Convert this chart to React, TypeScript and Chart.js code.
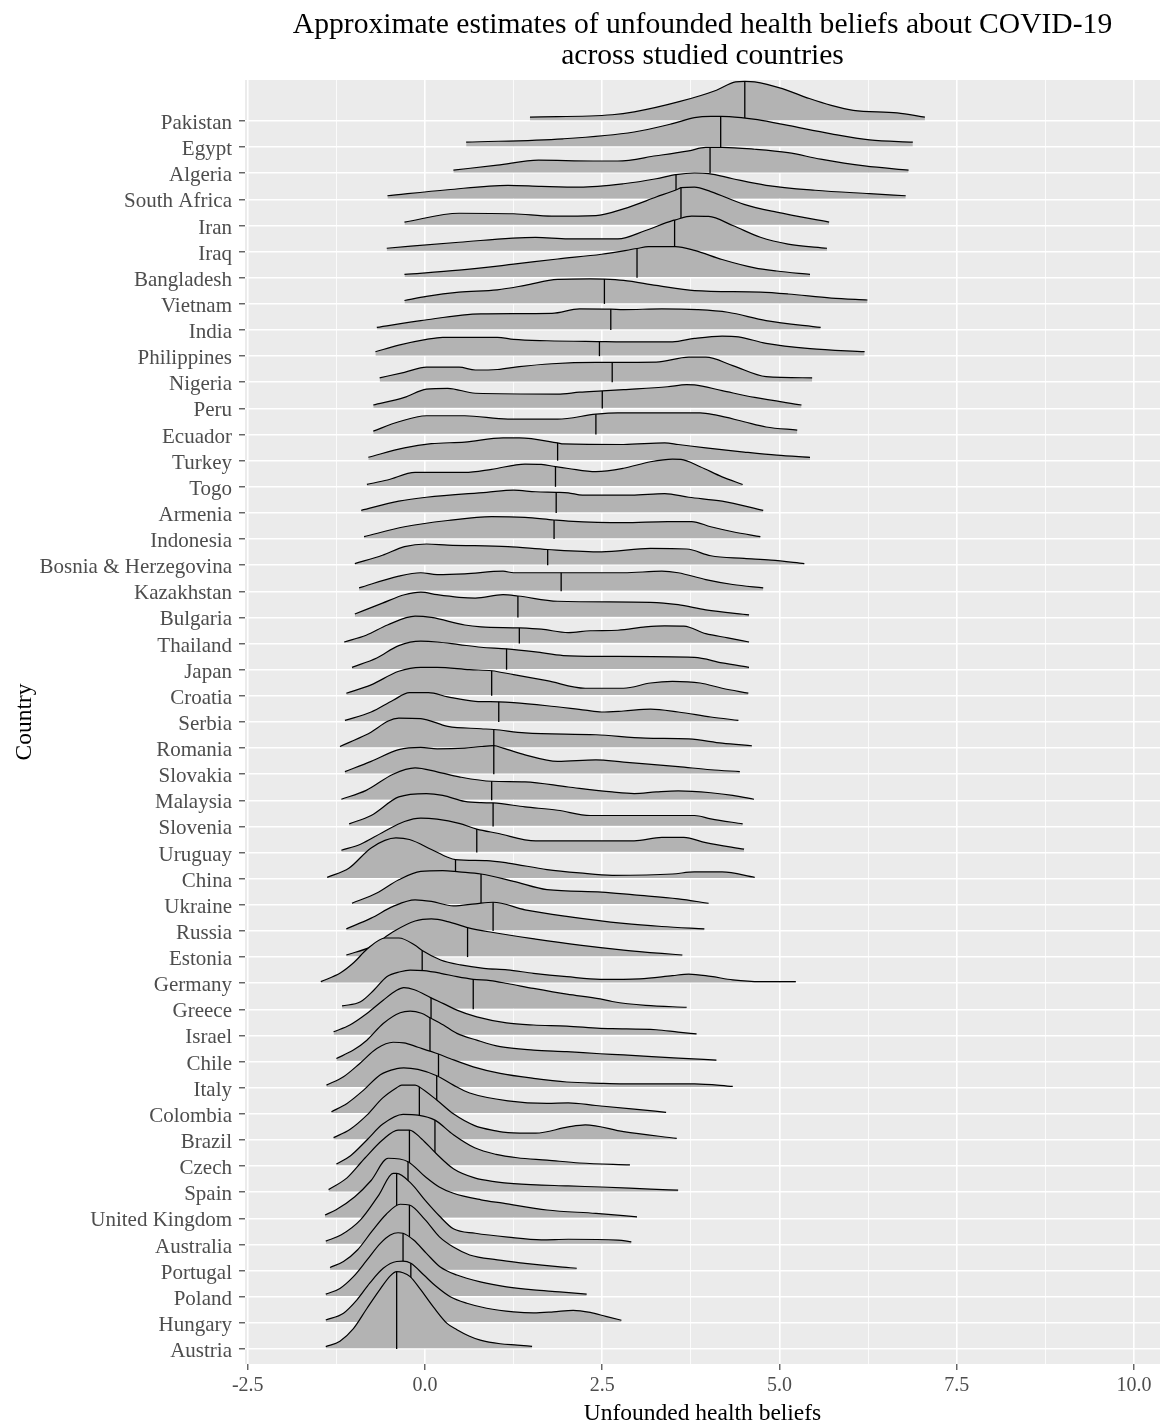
import React, { useEffect, useRef } from "react";
import { Chart, registerables } from "chart.js";

Chart.register(...registerables);

// ---------- DATA ----------
const countries: string[] = [
  "Pakistan", "Egypt", "Algeria", "South Africa", "Iran", "Iraq", "Bangladesh", "Vietnam",
  "India", "Philippines", "Nigeria", "Peru", "Ecuador", "Turkey", "Togo", "Armenia",
  "Indonesia", "Bosnia & Herzegovina", "Kazakhstan", "Bulgaria", "Thailand", "Japan", "Croatia", "Serbia",
  "Romania", "Slovakia", "Malaysia", "Slovenia", "Uruguay", "China", "Ukraine", "Russia",
  "Estonia", "Germany", "Greece", "Israel", "Chile", "Italy", "Colombia", "Brazil",
  "Czech", "Spain", "United Kingdom", "Australia", "Portugal", "Poland", "Hungary", "Austria",
];

// median (quantile line) of each country, same order as countries
const medians: number[] = [
  4.51, 4.17, 4.02, 3.54, 3.61, 3.52, 2.99, 2.53,
  2.62, 2.46, 2.64, 2.5, 2.41, 1.87, 1.84, 1.85,
  1.82, 1.73, 1.92, 1.31, 1.33, 1.15, 0.94, 1.04,
  0.97, 0.97, 0.94, 0.96, 0.73, 0.43, 0.79, 0.96,
  0.6, -0.04, 0.68, 0.085, 0.07, 0.19, 0.165, -0.08,
  0.14, -0.22, -0.24, -0.4, -0.22, -0.31, -0.2, -0.4,
];

// density ridge outline points [x, height in row units], same order as countries
const densities: number[][][] = [
  [[1.48,0.15],[2.64,0.24],[2.95,0.35],[3.57,0.73],[4.11,1.18],[4.38,1.5],[4.51,1.52],[4.65,1.5],[5.04,1.24],[5.42,0.86],[5.73,0.6],[6.04,0.41],[6.66,0.31],[7.05,0.15]],
  [[0.58,0.19],[1.95,0.32],[2.95,0.58],[3.49,0.9],[3.8,1.13],[4.03,1.18],[4.17,1.18],[4.46,1.13],[4.69,1.05],[5.12,0.83],[5.73,0.51],[6.27,0.28],[6.88,0.19]],
  [[0.4,0.12],[1.02,0.31],[1.6,0.5],[2.37,0.47],[2.72,0.47],[3.26,0.67],[3.72,0.86],[3.96,0.99],[4.02,0.99],[4.19,0.99],[4.65,0.92],[5.12,0.79],[5.58,0.54],[6.2,0.28],[6.82,0.12]],
  [[-0.53,0.14],[0.32,0.37],[1.17,0.54],[1.64,0.5],[2.18,0.47],[2.8,0.6],[3.26,0.79],[3.54,0.95],[3.8,1.01],[4.0,0.99],[4.34,0.79],[4.81,0.54],[5.5,0.35],[6.27,0.22],[6.78,0.14]],
  [[-0.29,0.13],[0.48,0.47],[1.25,0.45],[1.79,0.36],[2.41,0.38],[2.8,0.64],[3.26,1.09],[3.57,1.4],[3.61,1.45],[3.8,1.47],[4.03,1.3],[4.5,0.81],[4.96,0.51],[5.7,0.13]],
  [[-0.54,0.13],[0.48,0.36],[1.56,0.55],[2.02,0.49],[2.72,0.49],[3.11,0.81],[3.49,1.19],[3.52,1.21],[3.76,1.36],[4.0,1.35],[4.34,1.0],[4.73,0.55],[5.12,0.29],[5.67,0.13]],
  [[-0.29,0.13],[0.48,0.29],[1.25,0.52],[1.87,0.72],[2.49,0.9],[2.99,1.12],[3.15,1.19],[3.53,1.19],[3.8,1.05],[4.19,0.7],[4.65,0.38],[4.96,0.26],[5.43,0.13]],
  [[-0.29,0.13],[0.02,0.29],[0.48,0.45],[1.02,0.54],[1.41,0.71],[1.87,0.94],[2.33,0.96],[2.53,0.95],[2.8,0.9],[3.26,0.71],[3.8,0.51],[4.73,0.45],[5.12,0.38],[5.73,0.22],[6.24,0.15]],
  [[-0.68,0.1],[-0.06,0.36],[0.79,0.62],[1.79,0.64],[2.18,0.81],[2.62,0.8],[2.8,0.78],[3.34,0.81],[3.84,0.78],[4.27,0.68],[4.81,0.36],[5.58,0.1]],
  [[-0.7,0.17],[-0.37,0.42],[0.02,0.64],[0.25,0.72],[1.02,0.72],[1.25,0.64],[1.72,0.59],[2.46,0.56],[2.8,0.55],[3.49,0.55],[3.8,0.68],[4.19,0.77],[4.42,0.74],[4.81,0.49],[5.43,0.29],[6.2,0.17]],
  [[-0.64,0.17],[-0.29,0.38],[0.02,0.58],[0.48,0.58],[0.71,0.47],[1.02,0.49],[1.33,0.6],[1.79,0.71],[2.41,0.76],[2.64,0.76],[3.26,0.77],[3.72,0.96],[3.96,0.96],[4.34,0.64],[4.81,0.22],[5.46,0.17]],
  [[-0.73,0.13],[-0.29,0.42],[0.02,0.74],[0.32,0.77],[0.71,0.58],[1.87,0.55],[2.18,0.62],[2.5,0.67],[2.8,0.72],[3.42,0.83],[3.69,0.91],[3.8,0.9],[4.19,0.68],[4.65,0.42],[5.31,0.13]],
  [[-0.73,0.13],[-0.37,0.49],[0.02,0.72],[0.56,0.72],[1.17,0.59],[1.87,0.59],[2.41,0.78],[2.72,0.83],[3.88,0.83],[4.11,0.74],[4.5,0.49],[4.81,0.29],[5.25,0.17]],
  [[-0.8,0.13],[-0.29,0.49],[0.09,0.65],[0.56,0.71],[1.1,0.87],[1.33,0.87],[1.87,0.68],[1.95,0.64],[2.8,0.62],[3.38,0.68],[3.57,0.62],[3.96,0.49],[4.5,0.33],[4.96,0.21],[5.43,0.13]],
  [[-0.82,0.09],[-0.53,0.26],[-0.14,0.55],[0.56,0.55],[0.94,0.67],[1.41,0.87],[1.64,0.86],[1.84,0.77],[2.02,0.7],[2.41,0.58],[2.8,0.71],[3.18,0.96],[3.49,1.06],[3.61,1.05],[3.88,0.77],[4.19,0.38],[4.48,0.09]],
  [[-0.9,0.1],[-0.37,0.45],[0.02,0.6],[0.87,0.79],[1.25,0.87],[1.56,0.81],[1.85,0.79],[2.02,0.77],[2.22,0.68],[2.91,0.68],[3.38,0.74],[3.72,0.6],[4.19,0.45],[4.77,0.1]],
  [[-0.86,0.09],[-0.29,0.47],[0.32,0.71],[0.94,0.86],[1.41,0.83],[1.82,0.73],[2.02,0.69],[2.8,0.63],[3.42,0.67],[3.76,0.67],[4.03,0.47],[4.34,0.28],[4.73,0.09]],
  [[-0.99,0.06],[-0.6,0.38],[-0.29,0.71],[0.02,0.81],[0.32,0.77],[1.17,0.71],[1.73,0.6],[2.49,0.51],[3.18,0.64],[3.69,0.62],[4.03,0.36],[4.5,0.26],[4.88,0.19],[5.35,0.06]],
  [[-0.93,0.13],[-0.37,0.58],[-0.06,0.71],[0.17,0.64],[0.56,0.67],[1.1,0.77],[1.25,0.71],[1.92,0.71],[2.8,0.71],[3.34,0.77],[3.57,0.71],[3.96,0.45],[4.34,0.26],[4.77,0.13]],
  [[-0.99,0.13],[-0.6,0.55],[-0.29,0.87],[-0.06,0.97],[0.17,0.87],[0.48,0.77],[0.71,0.74],[1.1,0.87],[1.31,0.82],[1.87,0.62],[3.18,0.58],[3.57,0.49],[3.96,0.29],[4.57,0.1]],
  [[-1.14,0.06],[-0.83,0.32],[-0.53,0.71],[-0.14,1.05],[0.09,1.0],[0.56,0.71],[0.79,0.64],[1.33,0.6],[1.64,0.55],[2.02,0.42],[2.33,0.49],[2.72,0.51],[3.11,0.64],[3.38,0.68],[3.65,0.67],[3.96,0.38],[4.27,0.22],[4.57,0.06]],
  [[-1.03,0.09],[-0.68,0.45],[-0.37,0.92],[-0.06,1.09],[0.17,1.06],[0.48,0.96],[0.79,0.86],[1.15,0.8],[1.56,0.68],[1.95,0.54],[2.49,0.51],[3.8,0.47],[4.19,0.26],[4.57,0.09]],
  [[-1.11,0.1],[-0.76,0.42],[-0.37,0.94],[-0.06,1.09],[0.17,1.09],[0.63,1.0],[0.94,0.96],[1.25,0.81],[1.72,0.58],[2.26,0.29],[2.8,0.29],[3.18,0.49],[3.49,0.55],[3.88,0.49],[4.19,0.29],[4.56,0.1]],
  [[-1.13,0.06],[-0.76,0.38],[-0.45,0.83],[-0.22,1.12],[0.05,1.12],[0.32,0.96],[0.71,0.79],[1.04,0.77],[1.25,0.74],[1.72,0.62],[2.26,0.45],[2.49,0.38],[2.8,0.42],[3.18,0.49],[3.57,0.38],[4.03,0.19],[4.42,0.06]],
  [[-1.2,0.06],[-0.83,0.51],[-0.37,1.15],[-0.06,1.13],[0.32,0.83],[0.79,0.74],[0.97,0.71],[1.41,0.58],[2.41,0.51],[3.11,0.38],[3.72,0.35],[4.19,0.19],[4.61,0.09]],
  [[-1.13,0.1],[-0.76,0.49],[-0.37,0.94],[-0.06,1.03],[0.17,0.97],[0.56,1.0],[0.79,1.06],[0.97,1.09],[1.1,1.0],[1.41,0.74],[1.87,0.49],[2.41,0.55],[2.8,0.46],[3.57,0.29],[4.03,0.17],[4.44,0.1]],
  [[-1.18,0.04],[-0.83,0.38],[-0.45,1.0],[-0.14,1.24],[0.17,1.09],[0.48,0.9],[0.94,0.73],[1.41,0.71],[2.02,0.51],[2.64,0.32],[2.95,0.26],[3.26,0.32],[3.57,0.36],[4.03,0.29],[4.34,0.19],[4.64,0.04]],
  [[-1.07,0.1],[-0.76,0.42],[-0.37,1.13],[0.02,1.26],[0.25,1.19],[0.56,0.96],[0.79,0.91],[0.96,0.9],[1.41,0.75],[1.87,0.62],[2.33,0.42],[3.11,0.42],[3.8,0.42],[4.03,0.29],[4.48,0.1]],
  [[-1.18,0.09],[-0.91,0.32],[-0.6,0.77],[-0.29,1.19],[-0.06,1.32],[0.17,1.28],[0.48,1.12],[0.73,0.9],[1.02,0.74],[1.56,0.45],[2.95,0.45],[3.34,0.58],[3.65,0.58],[3.96,0.38],[4.5,0.13]],
  [[-1.38,0.05],[-1.07,0.41],[-0.76,1.18],[-0.41,1.56],[-0.22,1.5],[0.09,1.12],[0.32,0.82],[0.43,0.73],[0.87,0.69],[1.17,0.6],[1.72,0.35],[2.18,0.22],[2.64,0.13],[3.49,0.18],[3.8,0.26],[4.19,0.26],[4.65,0.05]],
  [[-1.03,0.06],[-0.68,0.45],[-0.37,0.96],[-0.06,1.28],[0.25,1.31],[0.48,1.26],[0.79,1.18],[1.25,0.9],[1.72,0.58],[2.49,0.49],[2.95,0.38],[3.57,0.23],[4.0,0.06]],
  [[-1.11,0.08],[-0.76,0.49],[-0.45,0.94],[-0.14,1.19],[0.09,1.13],[0.4,0.96],[0.71,1.04],[0.96,1.1],[1.41,0.81],[2.02,0.55],[2.8,0.29],[3.34,0.17],[3.94,0.08]],
  [[-1.11,0.08],[-0.76,0.4],[-0.45,0.97],[-0.14,1.38],[0.09,1.46],[0.32,1.36],[0.6,1.13],[0.94,0.95],[1.56,0.69],[2.18,0.46],[2.8,0.27],[3.34,0.14],[3.63,0.08]],
  [[-1.47,0.06],[-1.19,0.4],[-1.0,0.8],[-0.82,1.3],[-0.56,1.73],[-0.37,1.73],[-0.14,1.45],[-0.04,1.25],[0.22,0.89],[0.5,0.7],[0.83,0.57],[1.16,0.51],[1.53,0.38],[2.0,0.25],[2.47,0.15],[3.03,0.17],[3.49,0.29],[3.72,0.35],[4.03,0.26],[4.34,0.13],[4.73,0.06],[5.23,0.06]],
  [[-1.17,0.13],[-0.91,0.29],[-0.72,0.74],[-0.54,1.25],[-0.35,1.44],[-0.21,1.5],[-0.02,1.48],[0.22,1.38],[0.45,1.25],[0.68,1.15],[0.92,1.1],[1.16,0.99],[1.53,0.8],[2.0,0.58],[2.47,0.4],[2.64,0.3],[3.11,0.15],[3.69,0.08]],
  [[-1.29,0.14],[-1.06,0.4],[-0.82,0.84],[-0.59,1.35],[-0.4,1.73],[-0.3,1.83],[-0.15,1.75],[0.085,1.44],[0.26,1.22],[0.45,0.97],[0.73,0.71],[1.15,0.48],[1.53,0.4],[2.0,0.36],[2.47,0.27],[2.64,0.26],[3.26,0.22],[3.57,0.13],[3.83,0.06]],
  [[-1.25,0.12],[-1.01,0.44],[-0.82,0.82],[-0.59,1.46],[-0.35,1.87],[-0.21,1.93],[-0.05,1.85],[0.07,1.68],[0.26,1.4],[0.45,1.08],[0.73,0.82],[1.06,0.57],[1.53,0.44],[2.0,0.38],[2.47,0.3],[2.8,0.26],[3.57,0.13],[4.11,0.06]],
  [[-1.39,0.1],[-1.15,0.42],[-0.92,0.93],[-0.68,1.5],[-0.45,1.74],[-0.3,1.72],[-0.1,1.55],[0.19,1.29],[0.35,1.12],[0.68,0.8],[1.06,0.55],[1.53,0.36],[2.0,0.22],[2.47,0.17],[2.8,0.15],[3.8,0.15],[4.34,0.05]],
  [[-1.32,0.08],[-1.1,0.4],[-0.87,0.9],[-0.63,1.5],[-0.4,1.73],[-0.3,1.76],[-0.1,1.7],[0.165,1.46],[0.4,1.1],[0.63,0.8],[1.17,0.5],[1.72,0.4],[2.02,0.42],[2.41,0.32],[2.95,0.18],[3.4,0.06]],
  [[-1.29,0.09],[-1.06,0.4],[-0.82,0.95],[-0.6,1.6],[-0.4,2.0],[-0.33,2.1],[-0.14,2.1],[-0.08,2.03],[0.165,1.53],[0.4,1.0],[0.7,0.55],[1.0,0.35],[1.17,0.28],[1.56,0.26],[2.02,0.5],[2.26,0.58],[2.8,0.32],[3.55,0.06]],
  [[-1.25,0.08],[-1.05,0.4],[-0.82,1.0],[-0.6,1.6],[-0.31,1.98],[-0.1,1.95],[0.14,1.76],[0.4,1.2],[0.7,0.7],[1.0,0.45],[1.3,0.32],[1.72,0.23],[2.18,0.12],[2.89,0.05]],
  [[-1.36,0.1],[-1.1,0.55],[-0.85,1.3],[-0.6,2.0],[-0.38,2.38],[-0.22,2.38],[-0.05,2.05],[0.15,1.5],[0.4,0.9],[0.7,0.55],[1.0,0.4],[1.25,0.33],[2.02,0.24],[2.49,0.2],[3.18,0.12],[3.57,0.08]],
  [[-1.41,0.13],[-1.26,0.32],[-0.99,0.83],[-0.76,1.45],[-0.52,2.3],[-0.24,2.17],[0.0,1.6],[0.2,1.2],[0.4,0.96],[0.79,0.71],[1.1,0.58],[1.72,0.32],[2.41,0.19],[2.99,0.06]],
  [[-1.4,0.13],[-1.18,0.37],[-0.91,0.94],[-0.65,1.9],[-0.45,2.72],[-0.4,2.72],[-0.2,2.35],[0.0,1.7],[0.2,1.1],[0.4,0.6],[0.71,0.43],[1.17,0.28],[1.64,0.18],[2.02,0.2],[2.72,0.17],[2.91,0.1]],
  [[-1.34,0.12],[-1.15,0.35],[-0.95,0.8],[-0.75,1.5],[-0.55,2.15],[-0.35,2.54],[-0.22,2.51],[0.0,1.95],[0.2,1.3],[0.4,0.9],[0.63,0.6],[1.02,0.41],[1.41,0.28],[1.87,0.15],[2.14,0.09]],
  [[-1.4,0.1],[-1.2,0.32],[-1.01,0.77],[-0.82,1.4],[-0.63,2.04],[-0.49,2.36],[-0.38,2.45],[-0.31,2.43],[-0.16,2.17],[0.02,1.66],[0.21,1.15],[0.45,0.83],[0.78,0.57],[1.15,0.38],[1.53,0.26],[1.9,0.19],[2.28,0.1]],
  [[-1.4,0.11],[-1.15,0.37],[-0.96,0.88],[-0.78,1.52],[-0.59,2.09],[-0.4,2.35],[-0.31,2.36],[-0.2,2.28],[-0.02,1.84],[0.16,1.39],[0.35,1.01],[0.59,0.75],[0.87,0.56],[1.25,0.42],[1.53,0.38],[1.81,0.42],[2.09,0.48],[2.33,0.4],[2.55,0.25],[2.77,0.1]],
  [[-1.4,0.09],[-1.2,0.3],[-1.01,0.78],[-0.82,1.55],[-0.63,2.3],[-0.49,2.8],[-0.4,2.96],[-0.31,2.92],[-0.21,2.77],[-0.07,2.3],[0.12,1.6],[0.31,0.98],[0.45,0.74],[0.62,0.5],[0.78,0.34],[1.06,0.2],[1.3,0.15],[1.51,0.1]],
];

const xTickValues: number[] = [-2.5, -1.25, 0, 1.25, 2.5, 3.75, 5, 6.25, 7.5, 8.75, 10];
const xMajorTicks: number[] = [-2.5, 0, 2.5, 5, 7.5, 10];
const titleLines: string[] = [
  "Approximate estimates of unfounded health beliefs about COVID-19",
  "across studied countries",
];
const xAxisTitle = "Unfounded health beliefs";
const yAxisTitle = "Country";

// ---------- STYLE ----------
const W = 1167;
const H = 1426;
const FONT = '"Liberation Serif", "Times New Roman", serif';
const PANEL_BG = "#EBEBEB";
const RIDGE_FILL = "#B3B3B3";
const TICK_TEXT = "#4D4D4D";
const TICK_MARK = "#333333";

export default function App() {
  const canvasRef = useRef<HTMLCanvasElement | null>(null);

  useEffect(() => {
    document.body.style.margin = "0";
    const canvas = canvasRef.current;
    if (!canvas) return;
    const n = countries.length;

    const datasets = countries.map((name, r) => {
      const base = n - r;
      const pts = densities[r]
        .map(([x, h]) => ({ x, y: base + h }))
        .sort((a, b) => a.x - b.x);
      return {
        label: name,
        data: pts,
        fill: { value: base + 0.03 },
        backgroundColor: RIDGE_FILL,
        borderColor: "#000000",
        borderWidth: 1.2,
        pointRadius: 0,
        pointHoverRadius: 0,
        cubicInterpolationMode: "monotone" as const,
        order: n - r,
      };
    });

    const isMajor = (v: number) => xMajorTicks.some((m) => Math.abs(m - v) < 1e-9);

    const panelPlugin = {
      id: "panelBg",
      beforeDraw(chart: any) {
        const { ctx, chartArea: a } = chart;
        ctx.save();
        ctx.fillStyle = "#FFFFFF";
        ctx.fillRect(0, 0, chart.width, chart.height);
        ctx.fillStyle = PANEL_BG;
        ctx.fillRect(a.left, a.top, a.right - a.left, a.bottom - a.top);
        ctx.restore();
      },
    };

    const medianPlugin = {
      id: "medianLines",
      afterDatasetDraw(chart: any, args: any) {
        const i = args.index;
        const meta = args.meta;
        const ds = chart.data.datasets[i];
        const m = medians[i];
        const k = ds.data.findIndex((p: any) => Math.abs(p.x - m) < 1e-9);
        if (k < 0) return;
        const el = meta.data[k];
        const yBase = chart.scales.y.getPixelForValue(n - i);
        const { ctx, chartArea: a } = chart;
        ctx.save();
        ctx.beginPath();
        ctx.rect(a.left, a.top, a.right - a.left, a.bottom - a.top);
        ctx.clip();
        ctx.beginPath();
        ctx.moveTo(el.x, yBase);
        ctx.lineTo(el.x, el.y);
        ctx.strokeStyle = "#000000";
        ctx.lineWidth = 1.3;
        ctx.stroke();
        ctx.restore();
      },
    };

    const textPlugin = {
      id: "texts",
      afterDraw(chart: any) {
        const { ctx, chartArea: a } = chart;
        const cx = (a.left + a.right) / 2;
        ctx.save();
        ctx.fillStyle = "#000000";
        ctx.textAlign = "center";
        ctx.textBaseline = "alphabetic";
        ctx.font = `29.6px ${FONT}`;
        ctx.fillText(titleLines[0], cx, 33);
        ctx.fillText(titleLines[1], cx, 64);
        ctx.font = `23.5px ${FONT}`;
        ctx.fillText(xAxisTitle, cx, 1420);
        ctx.translate(31, (a.top + a.bottom) / 2);
        ctx.rotate(-Math.PI / 2);
        ctx.fillText(yAxisTitle, 0, 0);
        ctx.restore();
      },
    };

    const chart = new Chart(canvas, {
      type: "line",
      data: { datasets: datasets as any },
      options: {
        animation: false,
        responsive: false,
        devicePixelRatio: 1,
        events: [],
        layout: { padding: { left: 0, right: 7, top: 80, bottom: 0 } },
        plugins: {
          legend: { display: false },
          tooltip: { enabled: false },
          title: { display: false },
        },
        scales: {
          x: {
            type: "linear",
            min: -2.539,
            max: 10.366,
            afterBuildTicks: (axis: any) => {
              axis.ticks = xTickValues.map((v) => ({ value: v }));
            },
            afterFit: (s: any) => {
              s.height = 62;
            },
            border: { display: false },
            grid: {
              color: "#FFFFFF",
              lineWidth: (c: any) => (c.tick && isMajor(c.tick.value) ? 1.6 : 0.8),
              tickColor: (c: any) => (c.tick && isMajor(c.tick.value) ? TICK_MARK : "rgba(0,0,0,0)"),
              tickLength: 6,
              tickWidth: 1.1,
              drawTicks: true,
            },
            ticks: {
              autoSkip: false,
              maxRotation: 0,
              padding: 4,
              color: TICK_TEXT,
              font: { family: FONT, size: 20 },
              callback: (v: any) => (isMajor(Number(v)) ? Number(v).toFixed(1) : ""),
            },
          },
          y: {
            type: "linear",
            min: 0.426,
            max: 49.57,
            afterBuildTicks: (axis: any) => {
              axis.ticks = countries.map((_, i) => ({ value: i + 1 }));
            },
            afterFit: (s: any) => {
              s.width = 245;
            },
            border: { display: false },
            grid: {
              color: "#FFFFFF",
              lineWidth: 1.6,
              tickColor: TICK_MARK,
              tickLength: 6,
              tickWidth: 1.1,
              drawTicks: true,
            },
            ticks: {
              autoSkip: false,
              padding: 7,
              labelOffset: 2.5,
              color: TICK_TEXT,
              font: { family: FONT, size: 21 },
              callback: (v: any) => countries[n - Number(v)] ?? "",
            },
          },
        },
      },
      plugins: [panelPlugin, medianPlugin, textPlugin],
    });

    return () => {
      chart.destroy();
    };
  }, []);

  return (
    <div style={{ width: W, height: H, position: "relative" }}>
      <canvas ref={canvasRef} width={W} height={H} style={{ display: "block", width: W, height: H }} />
    </div>
  );
}
